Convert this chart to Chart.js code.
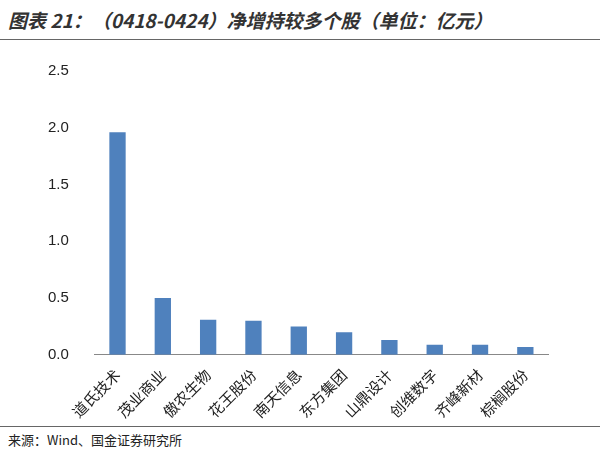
<!DOCTYPE html>
<html><head><meta charset="utf-8">
<script src="https://cdn.jsdelivr.net/npm/chart.js@4"></script>
<style>
body{margin:0;background:#fff;width:600px;height:455px;overflow:hidden;font-family:"Noto Sans CJK SC",sans-serif;}
#title{position:absolute;left:8px;top:6px;font-size:19px;font-weight:bold;font-style:italic;color:#333;}
#top{position:absolute;left:0;top:39px;width:600px;border-top:1.5px solid #666;}
#bot{position:absolute;left:0;top:426px;width:600px;border-top:1.5px solid #666;}
#src{position:absolute;left:8px;top:430px;font-size:13px;color:#222;}
#wrap{position:absolute;left:0;top:44px;width:600px;height:380px;}
</style></head><body>
<div id="title">图表 21：（0418-0424）净增持较多个股（单位：亿元）</div>
<div id="top"></div>
<div id="wrap"><canvas id="c"></canvas></div>
<div id="bot"></div>
<div id="src">来源：Wind、国金证券研究所</div>
<script>
const stocks = ['道氏技术','茂业商业','傲农生物','花王股份','南天信息','东方集团','山鼎设计','创维数字','齐峰新材','棕榈股份'];
const netAdd = [1.96, 0.50, 0.31, 0.30, 0.25, 0.20, 0.13, 0.09, 0.09, 0.07];

new Chart(document.getElementById('c'), {
    type: 'bar',
    data: {
        labels: stocks,
        datasets: [{
            data: netAdd,
            backgroundColor: '#4f81bd',
            categoryPercentage: 0.8,
            barPercentage: 0.45
        }]
    },
    options: {
        responsive: true,
        maintainAspectRatio: false,
        animation: false,
        layout: { padding: { left: 30, right: 52, top: 19, bottom: 0 } },
        plugins: { legend: { display: false }, tooltip: { enabled: false } },
        scales: {
            x: {
                grid: { display: false },
                border: { color: '#888' },
                ticks: {
                    minRotation: 45, maxRotation: 45,
                    color: '#222',
                    font: { size: 15, family: '"Noto Sans CJK SC"' }
                }
            },
            y: {
                min: 0, max: 2.5,
                grid: { display: false },
                border: { display: false },
                ticks: {
                    stepSize: 0.5,
                    padding: 18,
                    color: '#222',
                    font: { size: 15, family: 'Arial, "Liberation Sans"' },
                    callback: v => v.toFixed(1)
                }
            }
        }
    }
});
</script>
</body></html>
